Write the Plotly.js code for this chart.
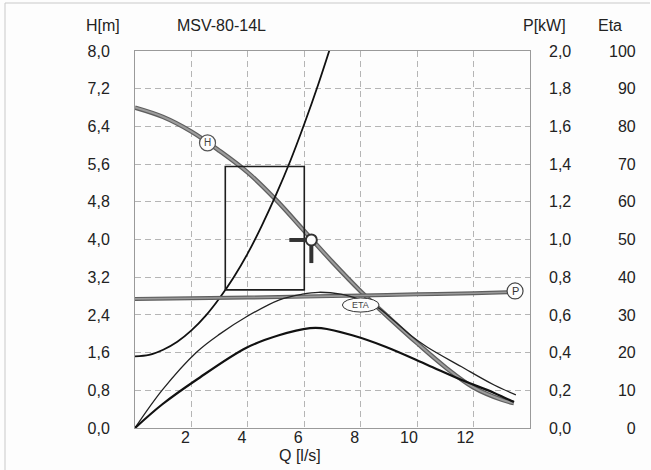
<!DOCTYPE html>
<html>
<head>
<meta charset="utf-8">
<script src="https://cdn.plot.ly/plotly-3.0.1.min.js"></script>
<style>
  html, body { margin: 0; padding: 0; background: #fdfdfd; }
  #chart { width: 651px; height: 470px; }
</style>
</head>
<body>
<div id="chart"></div>
<script>
// ---- data ----
const chartTitle = "MSV-80-14L";

// Q axis ticks
const Q_tickvals = [2, 4, 6, 8, 10, 12];
const Q_ticktext = ["2", "4", "6", "8", "10\u00A0", "12\u00A0"];

// H axis ticks (m)
const H_tickvals = [0, 0.8, 1.6, 2.4, 3.2, 4.0, 4.8, 5.6, 6.4, 7.2, 8.0];
const H_ticktext = ["0,0", "0,8", "1,6", "2,4", "3,2", "4,0", "4,8", "5,6", "6,4", "7,2", "8,0"];

// P axis ticks (kW)
const P_tickvals = [0, 0.2, 0.4, 0.6, 0.8, 1.0, 1.2, 1.4, 1.6, 1.8, 2.0];
const P_ticktext = ["0,0", "0,2", "0,4", "0,6", "0,8", "1,0", "1,2", "1,4", "1,6", "1,8", "2,0"];

// Eta axis ticks (%)
const Eta_tickvals = [0, 10, 20, 30, 40, 50, 60, 70, 80, 90, 100];
const Eta_ticktext = ["0", "10", "20", "30", "40", "50", "60", "70", "80", "90", "100"];

// Pump head curve H(Q)
const Q_H = [0, 1, 2, 3, 4, 5, 6, 7, 8, 9, 10, 11, 12, 13, 13.43];
const H_pump = [6.80, 6.60, 6.29, 5.88, 5.42, 4.84, 4.18, 3.52, 2.90, 2.34, 1.80, 1.29, 0.86, 0.60, 0.53];

// System curve
const Q_sys = [0, 0.5, 1, 1.5, 2, 2.5, 3, 3.5, 4, 4.5, 5, 5.5, 6, 6.5, 7];
const H_sys = [1.52, 1.55, 1.66, 1.83, 2.07, 2.38, 2.76, 3.20, 3.71, 4.30, 4.95, 5.66, 6.45, 7.30, 8.22];

// Power curve P(Q) in kW
const Q_P = [0, 2, 4, 6, 8, 10, 12, 13.2];
const P_kW = [0.685, 0.688, 0.692, 0.697, 0.703, 0.709, 0.715, 0.720];

// Efficiency curve (thin)
const Q_eta = [0, 0.97, 2.18, 3.0, 3.95, 5.12, 5.93, 6.5, 7.3, 8.0, 8.6, 9.2, 9.8, 10.35, 11.56, 12.73, 13.5];
const Eta_1 = [0, 10.1, 20.1, 24.9, 29.5, 34.0, 35.5, 36.0, 35.5, 34.0, 32.0, 28.3, 24.4, 21.5, 16.3, 11.4, 8.8];

// Efficiency curve (thick, lower)
const Q_eta2 = [0, 0.97, 2.18, 3.95, 5.1, 6.2, 6.6, 7.7, 8.9, 10.35, 11.56, 12.73, 13.43];
const Eta_2 = [0, 6.3, 12.8, 21.3, 24.6, 26.5, 26.5, 24.6, 21.5, 16.8, 12.8, 9.3, 6.9];

// Duty point and working range box
const dutyQ = 6.25, dutyH = 3.99;
const boxQ = [3.2, 6.0], boxH = [2.93, 5.55];

// label positions
const labelH = {q: 2.57, h: 6.05};
const labelP = {q: 13.47, p: 0.727};
const labelEta = {q0: 7.35, q1: 8.65, h0: 2.46, h1: 2.76};

// ---- drawing ----
const FONT = "Liberation Sans, Arial, Helvetica, sans-serif";
const TXT = "#222";

function padLeft(s, n) {
  // each digit = two nbsp in Arial metrics
  let pad = "";
  for (let i = s.length; i < n; i++) pad += "\u00A0\u00A0";
  return pad + s;
}

const traces = [
  { x: Q_P, y: P_kW, yaxis: "y2", mode: "lines", line: {color: "#5f5f5f", width: 4, shape: "spline"}, hoverinfo: "skip" },
  { x: Q_P, y: P_kW, yaxis: "y2", mode: "lines", line: {color: "#9a9a9a", width: 1.6, shape: "spline"}, hoverinfo: "skip" },
  { x: Q_H, y: H_pump, mode: "lines", line: {color: "#5f5f5f", width: 4.5, shape: "spline"}, hoverinfo: "skip" },
  { x: Q_H, y: H_pump, mode: "lines", line: {color: "#9c9c9c", width: 2, shape: "spline"}, hoverinfo: "skip" },
  { x: Q_eta, y: Eta_1, yaxis: "y3", mode: "lines", line: {color: "#222", width: 1.3, shape: "spline"}, hoverinfo: "skip" },
  { x: Q_eta2, y: Eta_2, yaxis: "y3", mode: "lines", line: {color: "#111", width: 2.2, shape: "spline"}, hoverinfo: "skip" },
  { x: Q_sys, y: H_sys, mode: "lines", line: {color: "#111", width: 1.8, shape: "spline"}, hoverinfo: "skip" }
];

const gridColor = "#b5b5b5";

const layout = {
  width: 651, height: 470,
  margin: {l: 135, r: 121, t: 51, b: 42, pad: 0},
  paper_bgcolor: "#fdfdfd",
  plot_bgcolor: "#fdfdfd",
  showlegend: false,
  font: {family: FONT, size: 16, color: TXT},
  xaxis: {
    range: [0, 14], tickmode: "array", tickvals: Q_tickvals, ticktext: Q_ticktext,
    showgrid: true, gridcolor: gridColor, gridwidth: 1, griddash: "6px,4px",
    showline: true, mirror: true, linecolor: "#9a9a9a", linewidth: 1,
    zeroline: false, ticks: "", ticklabelshift: -6, ticklabelstandoff: -5,
    tickfont: {size: 16, color: TXT}, automargin: false, fixedrange: true
  },
  yaxis: {
    range: [0, 8], tickmode: "array", tickvals: H_tickvals, ticktext: H_ticktext,
    showgrid: true, gridcolor: gridColor, gridwidth: 1, griddash: "6px,4px",
    showline: true, mirror: true, linecolor: "#9a9a9a", linewidth: 1,
    zeroline: false, ticks: "", ticklabelstandoff: 21,
    tickfont: {size: 16, color: TXT}, automargin: false, fixedrange: true
  },
  yaxis2: {
    overlaying: "y", side: "right", range: [0, 2],
    tickmode: "array", tickvals: P_tickvals, ticktext: P_ticktext,
    showgrid: false, zeroline: false, showline: false, ticks: "", ticklabelstandoff: 18,
    tickfont: {size: 16, color: TXT}, automargin: false, fixedrange: true
  },
  yaxis3: {
    overlaying: "y", side: "right", anchor: "free", position: 1, range: [0, 100],
    tickmode: "array", tickvals: Eta_tickvals, ticktext: Eta_ticktext.map(s => padLeft(s, 3)),
    showgrid: false, zeroline: false, showline: false, ticks: "", ticklabelstandoff: 78,
    tickfont: {size: 16, color: TXT}, automargin: false, fixedrange: true
  },
  shapes: [
    // outer frame (top, left)
    {type: "line", xref: "paper", yref: "paper", x0: (5-135)/395, x1: (650-135)/395, y0: (428-3)/377, y1: (428-3)/377, line: {color: "#c9c9c9", width: 1}},
    {type: "line", xref: "paper", yref: "paper", x0: (5-135)/395, x1: (5-135)/395, y0: (428-3)/377, y1: (428-470)/377, line: {color: "#c9c9c9", width: 1}},
    // working range box
    {type: "rect", xref: "x", yref: "y", x0: boxQ[0], x1: boxQ[1], y0: boxH[0], y1: boxH[1], line: {color: "#1e1e1e", width: 1.6}, fillcolor: "rgba(0,0,0,0)"},
    // duty point bars
    {type: "line", xref: "x", yref: "y", x0: 5.47, x1: 6.08, y0: dutyH, y1: dutyH, line: {color: "#333", width: 4}},
    {type: "line", xref: "x", yref: "y", x0: dutyQ, x1: dutyQ, y0: 3.9, y1: 3.5, line: {color: "#333", width: 4}},
    {type: "circle", xref: "x", yref: "y", xsizemode: "pixel", ysizemode: "pixel", xanchor: dutyQ, yanchor: dutyH,
      x0: -5.5, x1: 5.5, y0: -5.5, y1: 5.5, fillcolor: "#fdfdfd", line: {color: "#333", width: 2}},
    // H label circle
    {type: "circle", xref: "x", yref: "y", xsizemode: "pixel", ysizemode: "pixel", xanchor: labelH.q, yanchor: labelH.h,
      x0: -8, x1: 8, y0: -8, y1: 8, fillcolor: "#fdfdfd", line: {color: "#555", width: 1.2}},
    // P label circle
    {type: "circle", xref: "x", yref: "y2", xsizemode: "pixel", ysizemode: "pixel", xanchor: labelP.q, yanchor: labelP.p,
      x0: -8, x1: 8, y0: -8, y1: 8, fillcolor: "#fdfdfd", line: {color: "#444", width: 1.2}},
    // ETA label ellipse
    {type: "circle", xref: "x", yref: "y", x0: labelEta.q0, x1: labelEta.q1, y0: labelEta.h0, y1: labelEta.h1,
      fillcolor: "#fdfdfd", line: {color: "#333", width: 1}}
  ],
  annotations: [
    {text: "H[m]", xref: "paper", yref: "paper", x: (103-135)/395, y: (428-25)/377, xanchor: "center", yanchor: "middle", showarrow: false, font: {size: 16, color: TXT}},
    {text: chartTitle, xref: "paper", yref: "paper", x: (221-135)/395, y: (428-25)/377, xanchor: "center", yanchor: "middle", showarrow: false, font: {size: 16, color: TXT}},
    {text: "P[kW]", xref: "paper", yref: "paper", x: (544-135)/395, y: (428-25)/377, xanchor: "center", yanchor: "middle", showarrow: false, font: {size: 16, color: TXT}},
    {text: "Eta", xref: "paper", yref: "paper", x: (610-135)/395, y: (428-25)/377, xanchor: "center", yanchor: "middle", showarrow: false, font: {size: 16, color: TXT}},
    {text: "Q [l/s]", xref: "paper", yref: "paper", x: (300-135)/395, y: (428-455)/377, xanchor: "center", yanchor: "middle", showarrow: false, font: {size: 16, color: TXT}},
    {text: "H", xref: "x", yref: "y", x: labelH.q, y: labelH.h, xanchor: "center", yanchor: "middle", showarrow: false, font: {size: 10, color: "#444"}},
    {text: "P", xref: "x", yref: "y2", x: labelP.q, y: labelP.p, xanchor: "center", yanchor: "middle", showarrow: false, font: {size: 11, color: "#333"}},
    {text: "ETA", xref: "x", yref: "y", x: (labelEta.q0 + labelEta.q1) / 2, y: (labelEta.h0 + labelEta.h1) / 2, xanchor: "center", yanchor: "middle", showarrow: false, font: {size: 9, color: "#444"}}
  ]
};

Plotly.newPlot("chart", traces, layout, {staticPlot: true, displayModeBar: false});
</script>
</body>
</html>
